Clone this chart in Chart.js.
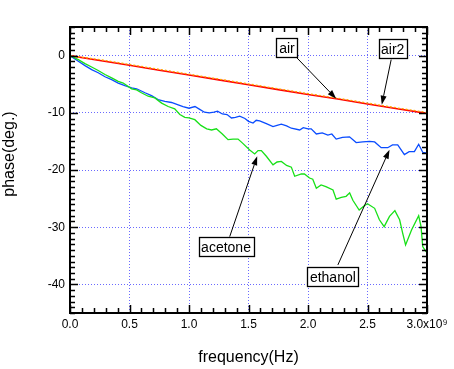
<!DOCTYPE html>
<html>
<head>
<meta charset="utf-8">
<script src="https://cdn.jsdelivr.net/npm/chart.js@4.4.1/dist/chart.umd.min.js"></script>
<style>
html,body{margin:0;padding:0;background:#fff;overflow:hidden}
#wrap{width:454px;height:369px}
</style>
</head>
<body>
<div id="wrap"><canvas id="c" width="454" height="369"></canvas></div>
<script>
// ---- tick labels ----
const xTickValues = [0, 0.5, 1.0, 1.5, 2.0, 2.5, 3.0];   // x 10^9 Hz
const yTickValues = [-40, -30, -20, -10, 0];

// ---- series (frequency in units of 1e9 Hz, phase in degrees) ----
const airFreq   = [0, 0.25, 0.5, 0.75, 1.0, 1.25, 1.5, 1.75, 2.0, 2.25, 2.5, 2.75, 3.0];
const airPhase  = [0, -0.85, -1.7, -2.55, -3.4, -4.25, -5.1, -5.95, -6.8, -7.6, -8.45, -9.3, -10.1];
const air2Freq  = [0, 0.25, 0.5, 0.75, 1.0, 1.25, 1.5, 1.75, 2.0, 2.25, 2.5, 2.75, 3.0];
const air2Phase = [0, -0.7, -1.55, -2.4, -3.25, -4.1, -4.95, -5.8, -6.65, -7.45, -8.3, -9.15, -9.95];

const ethanolFreq = [0, 0.07, 0.126, 0.182, 0.237, 0.294, 0.35, 0.405, 0.461, 0.518, 0.56, 0.63, 0.685, 0.74, 0.797,
  0.853, 0.909, 0.95, 1.0, 1.05, 1.09, 1.13, 1.17, 1.21, 1.24, 1.28, 1.32, 1.357, 1.39, 1.426, 1.47, 1.5, 1.538,
  1.565, 1.594, 1.65, 1.706, 1.74, 1.776, 1.82, 1.86, 1.93, 1.96, 2.0, 2.027, 2.07, 2.12, 2.167, 2.2, 2.237, 2.29,
  2.349, 2.405, 2.46, 2.517, 2.56, 2.615, 2.67, 2.71, 2.754, 2.81, 2.85, 2.894, 2.93, 2.964, 2.993];
const ethanolPhase = [0, -1.0, -1.75, -2.45, -3.0, -3.7, -4.2, -4.8, -5.25, -5.65, -5.8, -6.5, -7.0, -7.7, -8.0,
  -8.2, -8.6, -8.9, -9.2, -8.9, -9.4, -9.9, -10.0, -9.9, -9.7, -10.2, -10.3, -10.9, -10.8, -10.6, -11.0, -11.5, -11.8,
  -11.3, -11.4, -11.9, -12.4, -12.2, -12.0, -12.3, -12.7, -13.0, -12.6, -12.8, -12.8, -13.7, -13.5, -13.9, -13.7, -14.6, -14.3,
  -14.2, -15.2, -15.1, -15.0, -15.1, -16.1, -16.1, -15.6, -15.6, -17.3, -16.8, -16.8, -15.5, -16.9, -17.0];

const acetoneFreq = [0, 0.07, 0.126, 0.182, 0.237, 0.294, 0.35, 0.405, 0.447, 0.518, 0.56, 0.6, 0.657, 0.713, 0.77,
  0.825, 0.88, 0.923, 0.965, 1.0, 1.049, 1.1, 1.149, 1.19, 1.23, 1.28, 1.328, 1.37, 1.412, 1.45, 1.51, 1.552, 1.58,
  1.608, 1.65, 1.706, 1.74, 1.776, 1.82, 1.86, 1.888, 1.944, 1.97, 2.013, 2.04, 2.07, 2.11, 2.15, 2.21, 2.237, 2.28,
  2.32, 2.35, 2.377, 2.43, 2.47, 2.5, 2.56, 2.6, 2.64, 2.685, 2.73, 2.77, 2.795, 2.82, 2.87, 2.93, 2.95, 2.964, 2.993];
const acetonePhase = [0, -0.7, -1.4, -2.0, -2.6, -3.3, -3.9, -4.5, -4.8, -5.8, -6.0, -6.5, -7.1, -7.4, -8.3,
  -8.9, -9.3, -10.3, -10.8, -10.9, -11.2, -12.2, -12.8, -13.0, -12.8, -13.7, -14.7, -14.6, -14.6, -15.3, -16.5, -17.2, -16.6,
  -16.6, -17.6, -19.1, -18.6, -18.5, -19.2, -19.5, -21.1, -20.7, -20.7, -21.4, -21.6, -23.2, -22.6, -22.9, -23.5, -25.1, -24.8,
  -24.6, -24.0, -25.3, -27.0, -26.3, -25.9, -26.7, -28.7, -29.9, -28.1, -27.1, -28.7, -31.0, -33.1, -30.5, -28.0, -29.9, -33.4, -34.3];

// ---- annotation boxes with arrows (data coordinates) ----
const annoText  = ['air', 'air2', 'acetone', 'ethanol'];
const annoBoxX  = [1.823, 2.712, 1.311, 2.209];
const annoBoxY  = [1.37, 1.19, -33.40, -38.70];
const annoTailX = [1.907, 2.699, 1.342, 2.251];
const annoTailY = [-0.40, -0.70, -31.65, -36.60];
const annoHeadX = [2.237, 2.620, 1.573, 2.685];
const annoHeadY = [-7.53, -8.58, -17.60, -16.46];

const FONT = '"Liberation Sans", Arial, Helvetica, sans-serif';

function pts(xs, ys) { return xs.map((x, i) => ({x: x, y: ys[i]})); }

const framePlugin = {
  id: 'frame',
  afterDatasetsDraw(chart) {
    const ctx = chart.ctx, a = chart.chartArea;
    const xs = chart.scales.x, ys = chart.scales.y;
    ctx.save();
    ctx.strokeStyle = '#000';
    ctx.lineWidth = 1.5;
    ctx.beginPath();
    for (let i = 0; i <= 30; i++) {
      const v = i / 10;
      const px = Math.round(xs.getPixelForValue(v)) + 0.5;
      const len = (i % 5 === 0) ? 8 : 5;
      ctx.moveTo(px, a.bottom); ctx.lineTo(px, a.bottom - len);
      ctx.moveTo(px, a.top); ctx.lineTo(px, a.top + len);
    }
    for (let v = -45; v <= 5; v++) {
      const py = Math.round(ys.getPixelForValue(v)) + 0.5;
      const len = (v % 10 === 0) ? 8 : 5;
      ctx.moveTo(a.left, py); ctx.lineTo(a.left + len, py);
      ctx.moveTo(a.right, py); ctx.lineTo(a.right - len, py);
    }
    ctx.stroke();
    ctx.lineWidth = 2;
    ctx.strokeRect(a.left, a.top, a.right - a.left, a.bottom - a.top);

    ctx.lineWidth = 1;
    ctx.fillStyle = '#000';
    for (let i = 0; i < annoText.length; i++) {
      const tx = xs.getPixelForValue(annoTailX[i]), ty = ys.getPixelForValue(annoTailY[i]);
      const hx = xs.getPixelForValue(annoHeadX[i]), hy = ys.getPixelForValue(annoHeadY[i]);
      const ang = Math.atan2(hy - ty, hx - tx);
      const L = 9, W = 3;
      const bx = hx - L * Math.cos(ang), by = hy - L * Math.sin(ang);
      ctx.beginPath(); ctx.moveTo(tx, ty); ctx.lineTo(bx, by); ctx.stroke();
      ctx.beginPath();
      ctx.moveTo(hx, hy);
      ctx.lineTo(bx + W * Math.sin(ang), by - W * Math.cos(ang));
      ctx.lineTo(bx - W * Math.sin(ang), by + W * Math.cos(ang));
      ctx.closePath(); ctx.fill();
    }
    ctx.font = '14px ' + FONT;
    ctx.textAlign = 'center';
    ctx.textBaseline = 'middle';
    for (let i = 0; i < annoText.length; i++) {
      const cx = xs.getPixelForValue(annoBoxX[i]), cy = ys.getPixelForValue(annoBoxY[i]);
      const w = Math.round(ctx.measureText(annoText[i]).width + 5), h = 19;
      const x0 = Math.round(cx - w / 2) + 0.5, y0 = Math.round(cy - h / 2) + 0.5;
      ctx.fillStyle = '#fff';
      ctx.fillRect(x0, y0, w, h);
      ctx.strokeStyle = '#000';
      ctx.lineWidth = 1.3;
      ctx.strokeRect(x0, y0, w, h);
      ctx.fillStyle = '#000';
      ctx.fillText(annoText[i], cx, cy + 1);
    }
    ctx.restore();
  },
  afterDraw(chart) {
    const ctx = chart.ctx;
    ctx.save();
    ctx.translate(14, 154);
    ctx.rotate(-Math.PI / 2);
    ctx.font = '16px ' + FONT;
    ctx.fillStyle = '#000';
    ctx.textAlign = 'center';
    ctx.textBaseline = 'alphabetic';
    ctx.fillText('phase(deg.)', 0, 0);
    ctx.restore();
  }
};

new Chart(document.getElementById('c'), {
  type: 'line',
  data: {
    datasets: [
      {label: 'acetone', data: pts(acetoneFreq, acetonePhase), borderColor: '#18e018', borderWidth: 1.3},
      {label: 'ethanol', data: pts(ethanolFreq, ethanolPhase), borderColor: '#0a4cff', borderWidth: 1.3},
      {label: 'air2', data: pts(air2Freq, air2Phase), borderColor: '#ffa500', borderWidth: 1.3, borderDash: [2, 2]},
      {label: 'air', data: pts(airFreq, airPhase), borderColor: '#ff0000', borderWidth: 1.6}
    ]
  },
  options: {
    responsive: false,
    animation: false,
    parsing: false,
    elements: {point: {radius: 0}, line: {tension: 0, fill: false}},
    layout: {padding: {left: 0, right: 27, top: 27, bottom: 0}},
    plugins: {legend: {display: false}, tooltip: {enabled: false}},
    scales: {
      x: {
        type: 'linear', min: 0, max: 3,
        afterBuildTicks: s => { s.ticks = xTickValues.map(v => ({value: v})); },
        afterFit: s => { s.height = 56; },
        ticks: {
          autoSkip: false, maxRotation: 0, padding: 4, color: '#000',
          font: {family: FONT, size: 12},
          callback: v => (v === 3 ? '3.0x10\u2079' : Number(v).toFixed(1))
        },
        grid: {
          drawTicks: false, lineWidth: 1,
          color: c => (c.tick && (c.tick.value === 0 || c.tick.value === 3)) ? 'rgba(0,0,0,0)' : '#6a6aff'
        },
        border: {display: false, dash: [1, 2]},
        title: {display: true, text: 'frequency(Hz)', color: '#000', font: {family: FONT, size: 16}, padding: {top: 0, bottom: 2}}
      },
      y: {
        type: 'linear', min: -45, max: 5,
        afterBuildTicks: s => { s.ticks = yTickValues.map(v => ({value: v})); },
        afterFit: s => { s.width = 70; },
        ticks: {
          autoSkip: false, padding: 5, color: '#000',
          font: {family: FONT, size: 12},
          callback: v => String(v)
        },
        grid: {drawTicks: false, lineWidth: 1, color: '#6a6aff'},
        border: {display: false, dash: [1, 2]}
      }
    }
  },
  plugins: [framePlugin]
});
</script>
</body>
</html>
